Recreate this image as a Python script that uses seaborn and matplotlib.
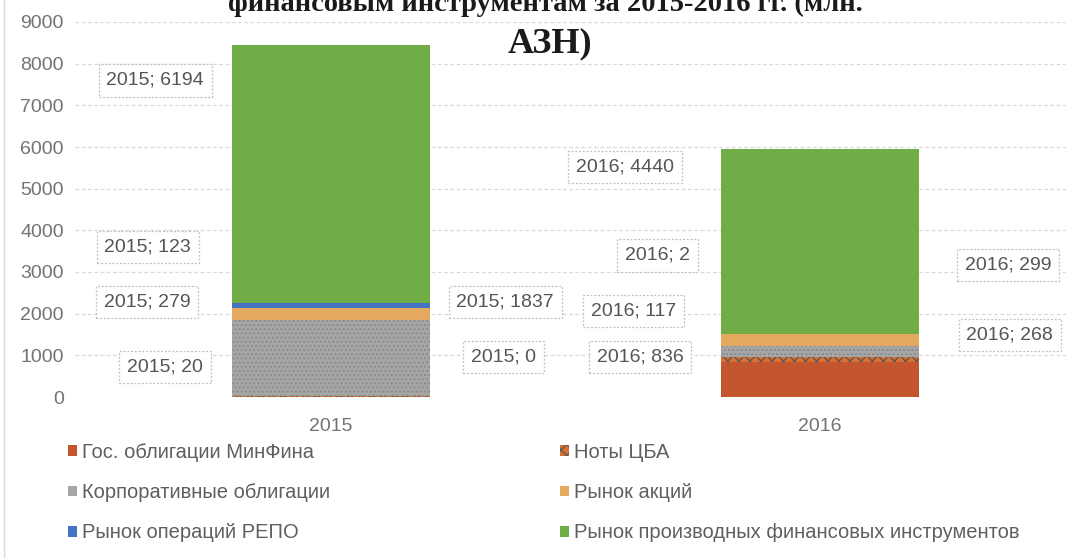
import numpy as np
import pandas as pd
import matplotlib
matplotlib.use('agg')
import matplotlib.pyplot as plt
import seaborn as sns
from matplotlib.patches import Patch, Rectangle

years = ['2015', '2016']
series = ['Гос. облигации МинФина', 'Ноты ЦБА', 'Корпоративные облигации',
          'Рынок акций', 'Рынок операций РЕПО',
          'Рынок производных финансовых инструментов']
vals_2015 = [0, 20, 1837, 279, 123, 6194]
vals_2016 = [836, 117, 268, 299, 2, 4440]

colors = ['#C4562F', '#DB6F2E', '#A6A6A6', '#E3A95E', '#4472C4', '#70AD47']
hatches = ['', 'xxx', '....', '', '', '']

# label box positions (x in category units, y in data units), same order as series
lab_pos_2015 = [(0.352, 960), (-0.34, 720), (0.356, 2280), (-0.376, 2280),
                (-0.375, 3600), (-0.36, 7600)]
lab_pos_2016 = [(0.632, 960), (0.618, 2060), (1.388, 1490), (1.384, 3165),
                (0.667, 3400), (0.601, 5515)]

sns.set_theme(style='white')
plt.rcParams['font.family'] = ['Liberation Sans', 'DejaVu Sans']

df = pd.DataFrame({'year': years * len(series),
                   'series': np.repeat(series, 2),
                   'value': [v for pair in zip(vals_2015, vals_2016) for v in pair]})
df['cum'] = df.groupby('year')['value'].cumsum()

fig = plt.figure(figsize=(10.87, 5.58), dpi=100)
W, H = 1087, 558
ax = fig.add_axes([75 / W, 1 - 397 / H, (1066 - 75) / W, (397 - 22) / H])

# draw cumulative totals from top layer down so each layer shows its own slice
for i in range(len(series) - 1, -1, -1):
    sub = df[df['series'] == series[i]]
    sns.barplot(data=sub, x='year', y='cum', color=colors[i], width=0.405,
                saturation=1, ax=ax, zorder=2)
for i, p in enumerate(ax.patches):
    k = len(series) - 1 - i // 2
    p.set_hatch(hatches[k])
    p.set_edgecolor('#5a5a5a' if hatches[k] == 'xxx' else '#8c8c8c' if hatches[k] else colors[k])
    p.set_linewidth(0.0)

ax.set_xlim(-0.524, 1.503)
ax.set_ylim(0, 9000)
ax.set_yticks(range(0, 9001, 1000))
ax.yaxis.grid(True, color='#D9D9D9', linestyle=(0, (3, 2)), linewidth=0.9, zorder=0)
ax.set_axisbelow(True)
sns.despine(ax=ax, left=True, bottom=True)
ax.set_xlabel('')
ax.set_ylabel('')
ax.tick_params(axis='y', colors='#737373', labelsize=14, length=0, pad=8)
ax.tick_params(axis='x', colors='#737373', labelsize=14, length=0, pad=15)

for yr, vals, pos in [('2015', vals_2015, lab_pos_2015), ('2016', vals_2016, lab_pos_2016)]:
    for v, (px, py) in zip(vals, pos):
        ax.text(px, py, f'{yr}; {v}', ha='center', va='center', fontsize=14,
                color='#555555', zorder=5,
                bbox=dict(boxstyle='square,pad=0.4', fc='white', ec='#BFBFBF',
                          ls=(0, (1.5, 1.5)), lw=0.9))

handles = [Patch(facecolor=colors[i], hatch=hatches[i],
                 edgecolor='#5a5a5a' if hatches[i] == 'xxx' else colors[i], lw=0)
           for i in range(len(series))]
order = [0, 2, 4, 1, 3, 5]
fig.legend([handles[i] for i in order], [series[i] for i in order], ncol=2,
           loc='upper left', bbox_to_anchor=(68 / W, 1 - 443 / H),
           frameon=False, fontsize=14.5, labelcolor='#5f5f5f',
           handlelength=0.45, handleheight=0.45, handletextpad=0.25, labelspacing=1.05,
           columnspacing=11.4, borderpad=0, borderaxespad=0)

fig.text(545 / W, 1 - 11 / H, 'финансовым инструментам за 2015-2016 гг. (млн.',
         ha='center', va='baseline', fontsize=20.5, fontweight='bold',
         family='Liberation Serif', color='#1a1a1a')
fig.text(550 / W, 1 - 52 / H, 'АЗН)', ha='center', va='baseline', fontsize=26,
         fontweight='bold', family='Liberation Serif', color='#1a1a1a')

fig.patches.append(Rectangle((4 / W, -0.01), 1.1, 1.1, transform=fig.transFigure,
                             fill=False, ec='#D9D9D9', lw=1))

fig.savefig('out.png', dpi=100)
